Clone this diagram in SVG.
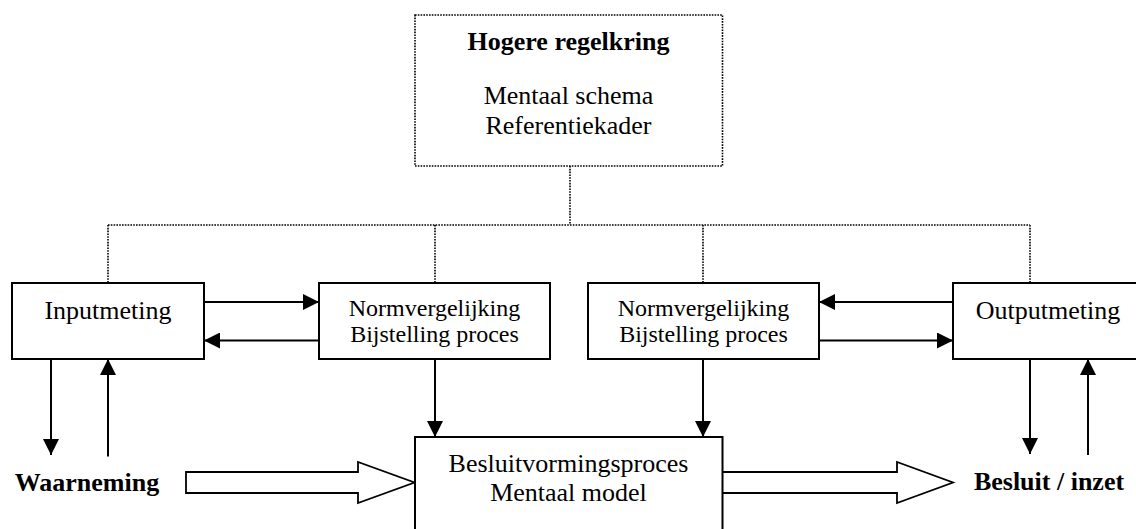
<svg xmlns="http://www.w3.org/2000/svg" width="1136" height="529" viewBox="0 0 1136 529">
  <defs>
    <style>
      text { font-family: "Liberation Serif", "Times New Roman", serif; fill: #000; text-anchor: middle; }
      .t26 { font-size: 26px; }
      .t24 { font-size: 24px; }
      .b { font-weight: bold; }
      .box { fill: #fff; stroke: #000; stroke-width: 2; }
      .dotbox { fill: #fff; stroke: #000; stroke-width: 1.6; stroke-dasharray: 1.6 1.2; }
      .dot { fill: none; stroke: #000; stroke-width: 1.6; stroke-dasharray: 1.6 1.2; }
      .arr { fill: none; stroke: #000; stroke-width: 2; marker-end: url(#head); }
      .hollow { fill: #fff; stroke: #000; stroke-width: 1.8; stroke-linejoin: miter; }
    </style>
    <marker id="head" markerUnits="userSpaceOnUse" markerWidth="16" markerHeight="16" viewBox="0 0 14 14" refX="14" refY="7" orient="auto">
      <path d="M0,0 L14,7 L0,14 Z" fill="#000"/>
    </marker>
  </defs>

  <!-- connectors -->
  <g id="connectors">
    <!-- dotted control tree from the higher loop -->
    <path class="dot" d="M570,166 V225 M108,225 H1030 M108,225 V283 M435,225 V283 M703,225 V283 M1030,225 V283"/>
    <!-- input side -->
    <path class="arr" d="M204,302 H319"/>
    <path class="arr" d="M319,340.5 H204"/>
    <path class="arr" d="M51,359 V455"/>
    <path class="arr" d="M108,456.5 V359"/>
    <!-- output side -->
    <path class="arr" d="M953,302 H819"/>
    <path class="arr" d="M819,340.5 H953"/>
    <path class="arr" d="M1030,359 V454"/>
    <path class="arr" d="M1088,455 V359"/>
    <!-- norm comparison into decision process -->
    <path class="arr" d="M435,359 V437"/>
    <path class="arr" d="M703,359 V437"/>
    <!-- broad flow arrows -->
    <path class="hollow" d="M186,472 H358 V462 L414.5,482.5 L358,503 V493 H186 Z"/>
    <path class="hollow" d="M723,472 H897 V462 L953,482.5 L897,503 V493 H723"/>
  </g>

  <g id="hogere-regelkring">
    <rect class="dotbox" x="415" y="15" width="307.5" height="151"/>
    <text class="t26 b" x="568.5" y="50">Hogere regelkring</text>
    <text class="t26" x="568.5" y="103.5">Mentaal schema</text>
    <text class="t26" x="568.5" y="134">Referentiekader</text>
  </g>

  <g id="inputmeting">
    <rect class="box" x="12" y="283" width="192" height="76"/>
    <text class="t26" x="108" y="318.5">Inputmeting</text>
  </g>

  <g id="normvergelijking-links">
    <rect class="box" x="319" y="283" width="231" height="76"/>
    <text class="t24" x="434.5" y="316">Normvergelijking</text>
    <text class="t24" x="434.5" y="341.5">Bijstelling proces</text>
  </g>

  <g id="normvergelijking-rechts">
    <rect class="box" x="588" y="283" width="231" height="76"/>
    <text class="t24" x="703.5" y="316">Normvergelijking</text>
    <text class="t24" x="703.5" y="341.5">Bijstelling proces</text>
  </g>

  <g id="outputmeting">
    <rect class="box" x="953" y="283" width="192" height="76"/>
    <text class="t26" x="1048" y="318.5">Outputmeting</text>
  </g>

  <g id="besluitvormingsproces">
    <rect class="box" x="415" y="437" width="307.5" height="100"/>
    <text class="t26" x="568.5" y="472">Besluitvormingsproces</text>
    <text class="t26" x="568.5" y="501">Mentaal model</text>
  </g>

  <g id="waarneming">
    <text class="t26 b" x="87" y="491">Waarneming</text>
  </g>

  <g id="besluit-inzet">
    <text class="t26 b" x="1049" y="490">Besluit / inzet</text>
  </g>
</svg>
